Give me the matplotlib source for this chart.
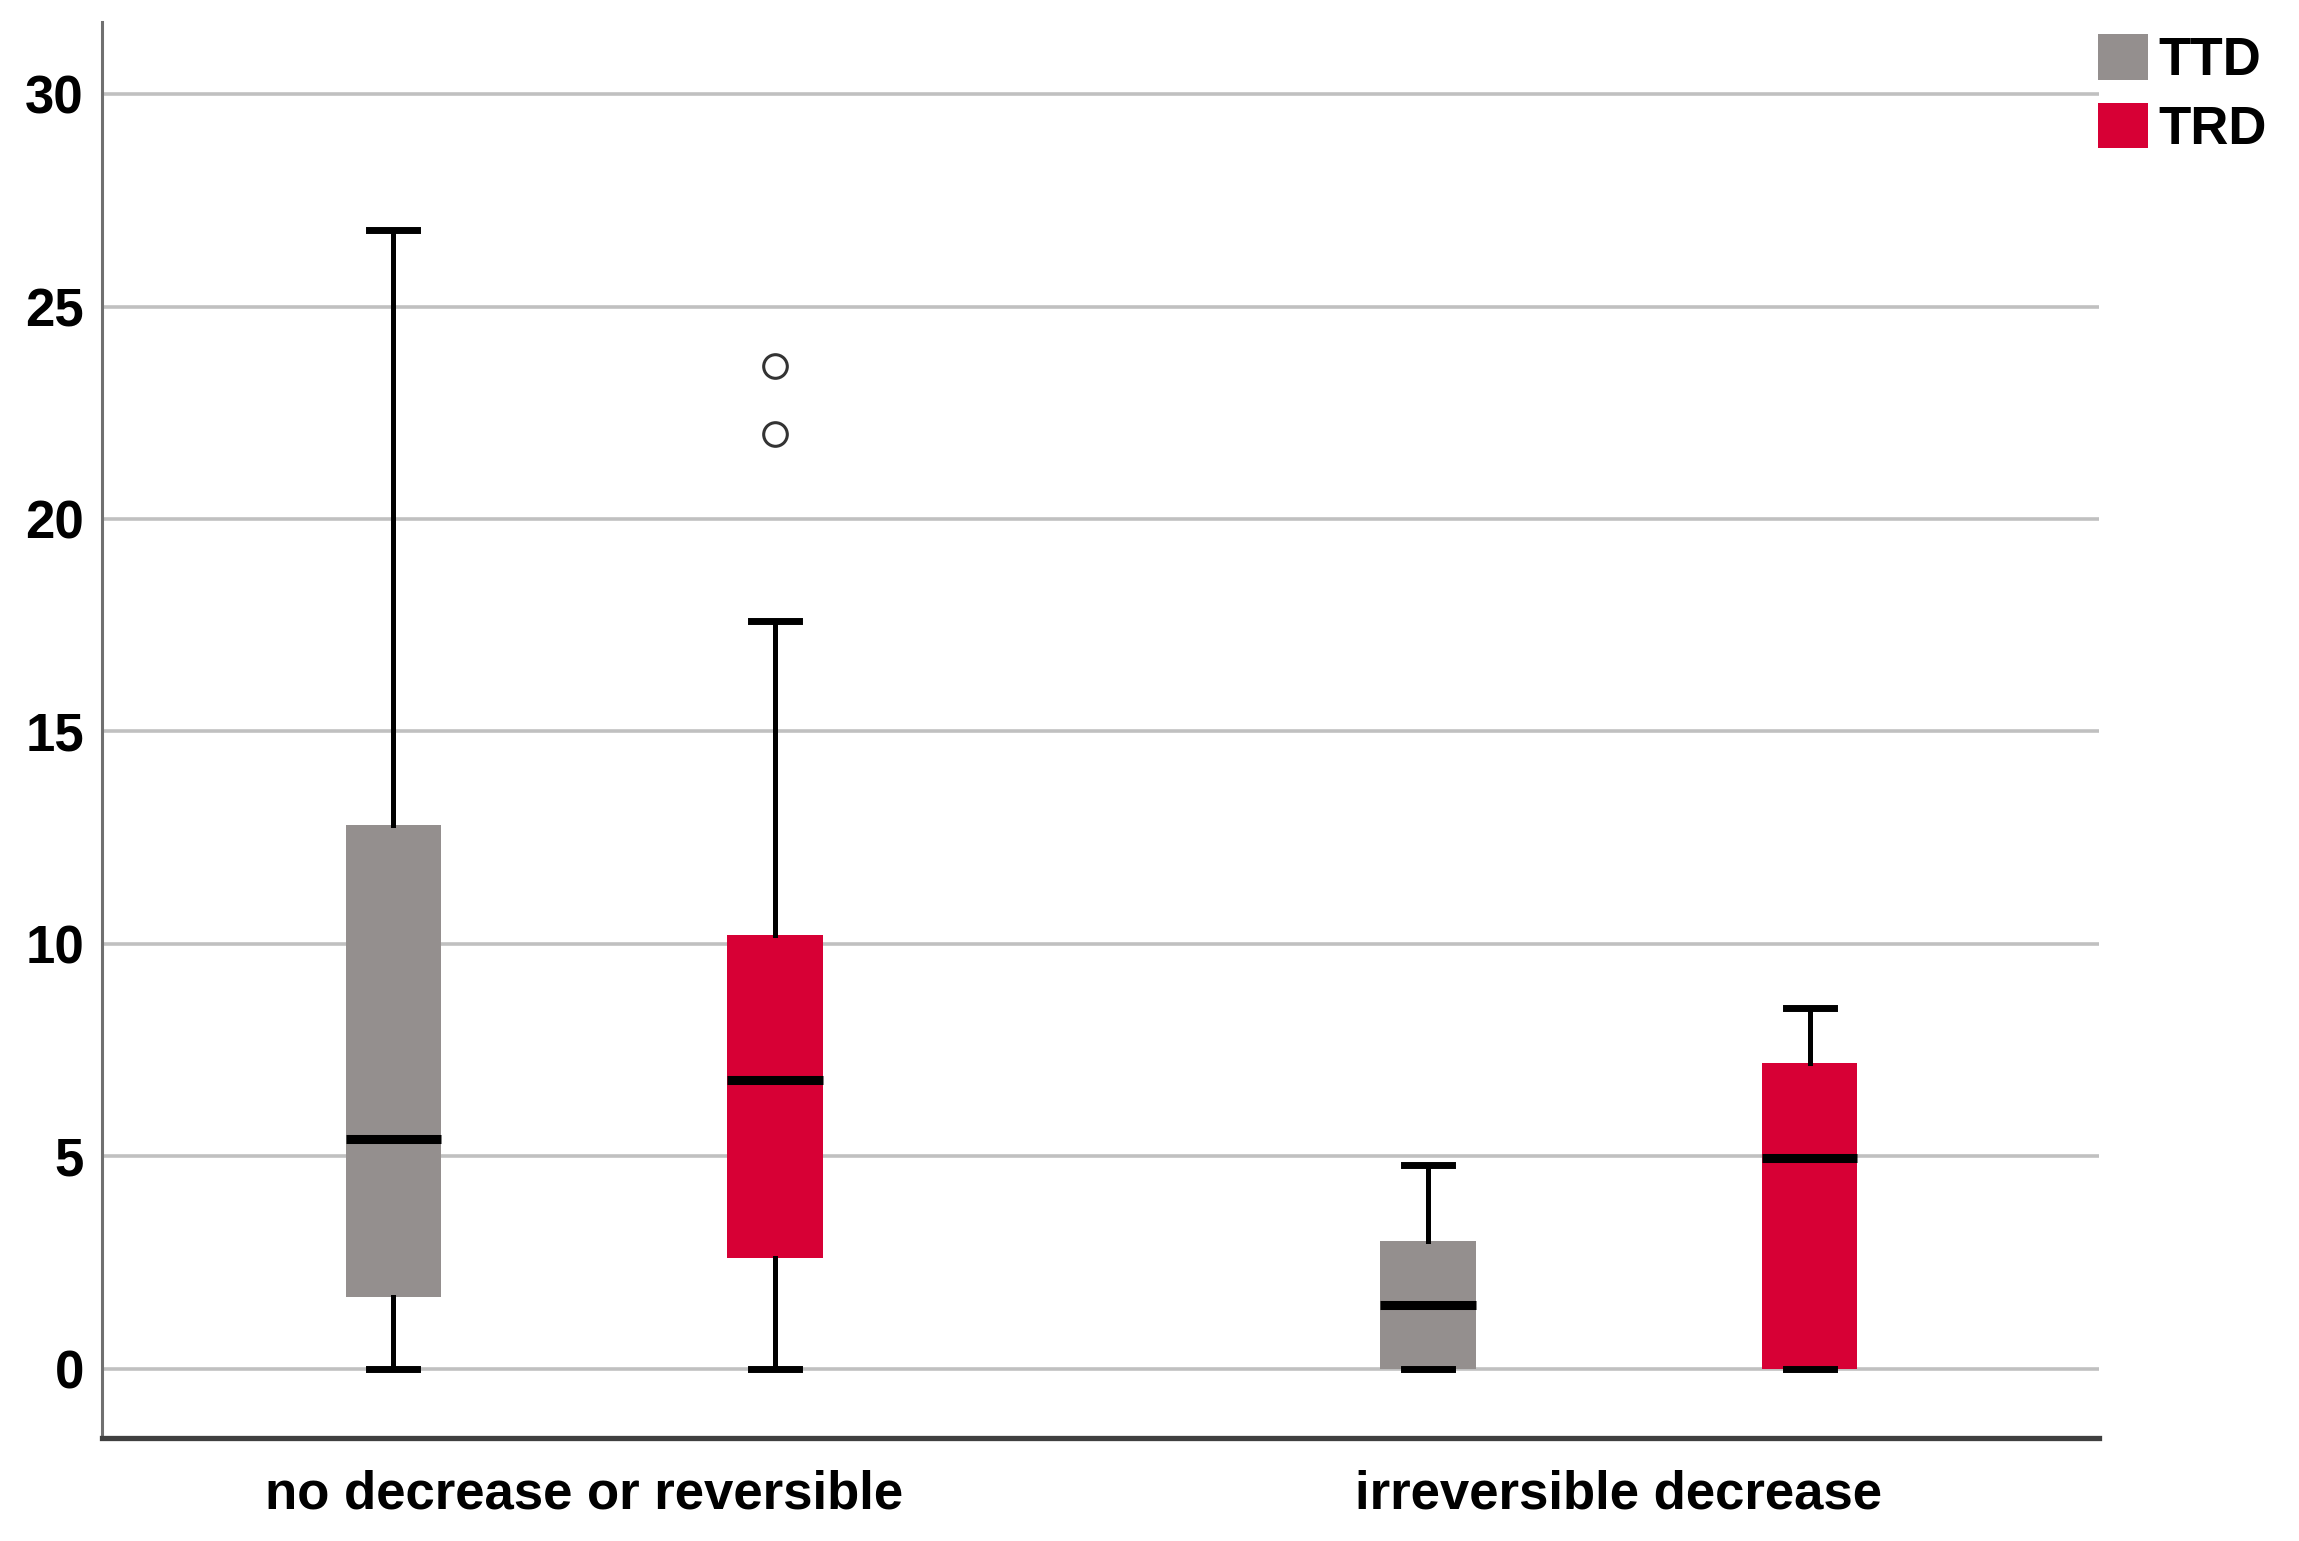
import matplotlib
matplotlib.use("Agg")
import matplotlib.pyplot as plt
from matplotlib.patches import Patch

categories = ["no decrease or reversible", "irreversible decrease"]
series = ["TTD", "TRD"]
colors = ["#948F8E", "#D70035"]

# five-number summaries per series, per category
ttd_low = [0.0, 0.0]
ttd_q1 = [1.7, 0.0]
ttd_med = [5.4, 1.5]
ttd_q3 = [12.8, 3.0]
ttd_high = [26.8, 4.8]
ttd_outliers = [[], []]

trd_low = [0.0, 0.0]
trd_q1 = [2.6, 0.0]
trd_med = [6.8, 4.95]
trd_q3 = [10.2, 7.2]
trd_high = [17.6, 8.5]
trd_outliers = [[22.0, 23.6], []]

yticks = [0, 5, 10, 15, 20, 25, 30]

W, H = 2299, 1541
fig = plt.figure(figsize=(W / 100, H / 100), dpi=100)
ax = fig.add_axes([102 / W, 1 - 1438 / H, (2099 - 102) / W, (1438 - 22) / H])

font = dict(family="Liberation Sans", weight="bold")

offset = 0.1845
width = 0.092
groups = [
    (ttd_low, ttd_q1, ttd_med, ttd_q3, ttd_high, ttd_outliers),
    (trd_low, trd_q1, trd_med, trd_q3, trd_high, trd_outliers),
]
for si, (lo, q1, med, q3, hi, fl) in enumerate(groups):
    stats = []
    for ci in range(len(categories)):
        stats.append(dict(whislo=lo[ci], q1=q1[ci], med=med[ci], q3=q3[ci],
                          whishi=hi[ci], fliers=fl[ci]))
    pos = [ci + (offset if si else -offset) for ci in range(len(categories))]
    ax.bxp(stats, positions=pos, widths=width, patch_artist=True,
           showfliers=True, manage_ticks=False,
           boxprops=dict(facecolor=colors[si], edgecolor="none", linewidth=0),
           medianprops=dict(color="black", linewidth=6.5, solid_capstyle="butt"),
           whiskerprops=dict(color="black", linewidth=3.6),
           capprops=dict(color="black", linewidth=5.0),
           capwidths=0.046,
           flierprops=dict(marker="o", markersize=17, markerfacecolor="none",
                           markeredgecolor="#333333", markeredgewidth=2.2),
           zorder=3)

ax.set_xlim(-0.466, 1.464)
ax.set_ylim(-1.63, 31.7)
ax.set_yticks(yticks)
ax.set_yticklabels([str(t) for t in yticks], fontsize=38, **font)
ax.set_xticks(range(len(categories)))
ax.set_xticklabels(categories, fontsize=38, **font)
ax.tick_params(axis="y", length=0, pad=13)
ax.tick_params(axis="x", length=0, pad=23)
ax.yaxis.grid(True, color="#C0C0C0", linewidth=2.6, zorder=0)
ax.set_axisbelow(True)
for s in ["top", "right"]:
    ax.spines[s].set_visible(False)
ax.spines["left"].set_color("#707070")
ax.spines["left"].set_linewidth(2.2)
ax.spines["bottom"].set_color("#404040")
ax.spines["bottom"].set_linewidth(3.8)

handles = [Patch(facecolor=c, edgecolor="none", label=s) for s, c in zip(series, colors)]
leg = fig.legend(handles=handles, loc="upper left",
                 bbox_to_anchor=(2098 / W, 1 - 34 / H),
                 frameon=False, prop=dict(family="Liberation Sans", weight="bold", size=38),
                 handlelength=0.95, handleheight=0.95, handletextpad=0.2,
                 labelspacing=0.32, borderpad=0, borderaxespad=0)

fig.savefig("out.png", dpi=100)
